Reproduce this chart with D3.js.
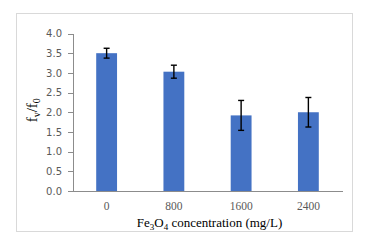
<!DOCTYPE html>
<meta charset="utf-8">
<style>
  body { margin: 0; background: #fff; }
  .axis path, .axis line { stroke: #8c8c8c; shape-rendering: crispEdges; }
</style>
<body>
<script src="https://d3js.org/d3.v7.min.js"></script>
<script>
// data
var concentrations = ["0", "800", "1600", "2400"];
var ratio = [3.5, 3.03, 1.92, 2.0];
var errors = [0.125, 0.165, 0.38, 0.375];
var yTicks = [0, 0.5, 1, 1.5, 2, 2.5, 3, 3.5, 4];

var W = 371, H = 241;
var plot = {left: 73, right: 342, top: 33.5, bottom: 191};

var svg = d3.select("body").append("svg")
    .attr("width", W)
    .attr("height", H);

// chart border
svg.append("rect")
    .attr("x", 16.5).attr("y", 13.5)
    .attr("width", 336).attr("height", 218)
    .attr("fill", "#fff")
    .attr("stroke", "#d9d9d9");

var x = d3.scaleBand()
    .domain(concentrations)
    .range([plot.left, plot.right])
    .paddingInner(0.69)
    .paddingOuter(0.345);

var y = d3.scaleLinear()
    .domain([0, 4])
    .range([plot.bottom, plot.top]);

// y axis
var gy = svg.append("g")
    .attr("class", "axis")
    .attr("transform", "translate(" + plot.left + ",0)")
    .call(d3.axisLeft(y).tickValues(yTicks).tickSize(5).tickSizeOuter(0).tickFormat(d3.format(".1f")));
gy.selectAll("text")
    .attr("x", -11)
    .style("font-family", "'DejaVu Sans', sans-serif")
    .style("font-size", "10px")
    .attr("fill", "#595959");

// x axis
var gx = svg.append("g")
    .attr("class", "axis")
    .attr("transform", "translate(0," + plot.bottom + ")")
    .call(d3.axisBottom(x).tickSize(0).tickSizeOuter(0));
gx.selectAll("text")
    .attr("y", 11)
    .style("font-family", "'Liberation Serif', serif")
    .style("font-size", "11.5px")
    .attr("fill", "#595959");

// bars
svg.selectAll(".bar")
    .data(ratio)
    .enter().append("rect")
    .attr("class", "bar")
    .attr("x", function(d, i) { return x(concentrations[i]); })
    .attr("width", x.bandwidth())
    .attr("y", function(d) { return y(d); })
    .attr("height", function(d) { return y(0) - y(d); })
    .attr("fill", "#4472c4");

// error bars
var eb = svg.selectAll(".err")
    .data(ratio)
    .enter().append("g")
    .attr("class", "err")
    .attr("stroke", "#000")
    .attr("stroke-width", 1.4);
var cx = function(i) { return x(concentrations[i]) + x.bandwidth() / 2; };
eb.append("line")
    .attr("x1", function(d, i) { return cx(i); })
    .attr("x2", function(d, i) { return cx(i); })
    .attr("y1", function(d, i) { return y(d + errors[i]); })
    .attr("y2", function(d, i) { return y(d - errors[i]); });
eb.append("line")
    .attr("x1", function(d, i) { return cx(i) - 3; })
    .attr("x2", function(d, i) { return cx(i) + 3; })
    .attr("y1", function(d, i) { return y(d + errors[i]); })
    .attr("y2", function(d, i) { return y(d + errors[i]); });
eb.append("line")
    .attr("x1", function(d, i) { return cx(i) - 3; })
    .attr("x2", function(d, i) { return cx(i) + 3; })
    .attr("y1", function(d, i) { return y(d - errors[i]); })
    .attr("y2", function(d, i) { return y(d - errors[i]); });

// x title
var xt = svg.append("text")
    .attr("x", (plot.left + plot.right) / 2 + 2)
    .attr("y", 226.5)
    .attr("text-anchor", "middle")
    .style("font-family", "'Liberation Serif', serif")
    .style("font-size", "13px")
    .attr("fill", "#000");
xt.append("tspan").text("Fe");
xt.append("tspan").attr("dy", 3).style("font-size", "9px").text("3");
xt.append("tspan").attr("dy", -3).text("O");
xt.append("tspan").attr("dy", 3).style("font-size", "9px").text("4");
xt.append("tspan").attr("dy", -3).text(" concentration (mg/L)");

// y title
var yt = svg.append("text")
    .attr("transform", "translate(37," + ((plot.top + plot.bottom) / 2 - 2) + ") rotate(-90)")
    .attr("text-anchor", "middle")
    .style("font-family", "'Liberation Serif', serif")
    .style("font-size", "15px")
    .attr("fill", "#000");
yt.append("tspan").text("f");
yt.append("tspan").attr("dy", 3).style("font-size", "10px").text("v");
yt.append("tspan").attr("dy", -3).text("/f");
yt.append("tspan").attr("dy", 3).style("font-size", "10px").text("0");
</script>
</body>
